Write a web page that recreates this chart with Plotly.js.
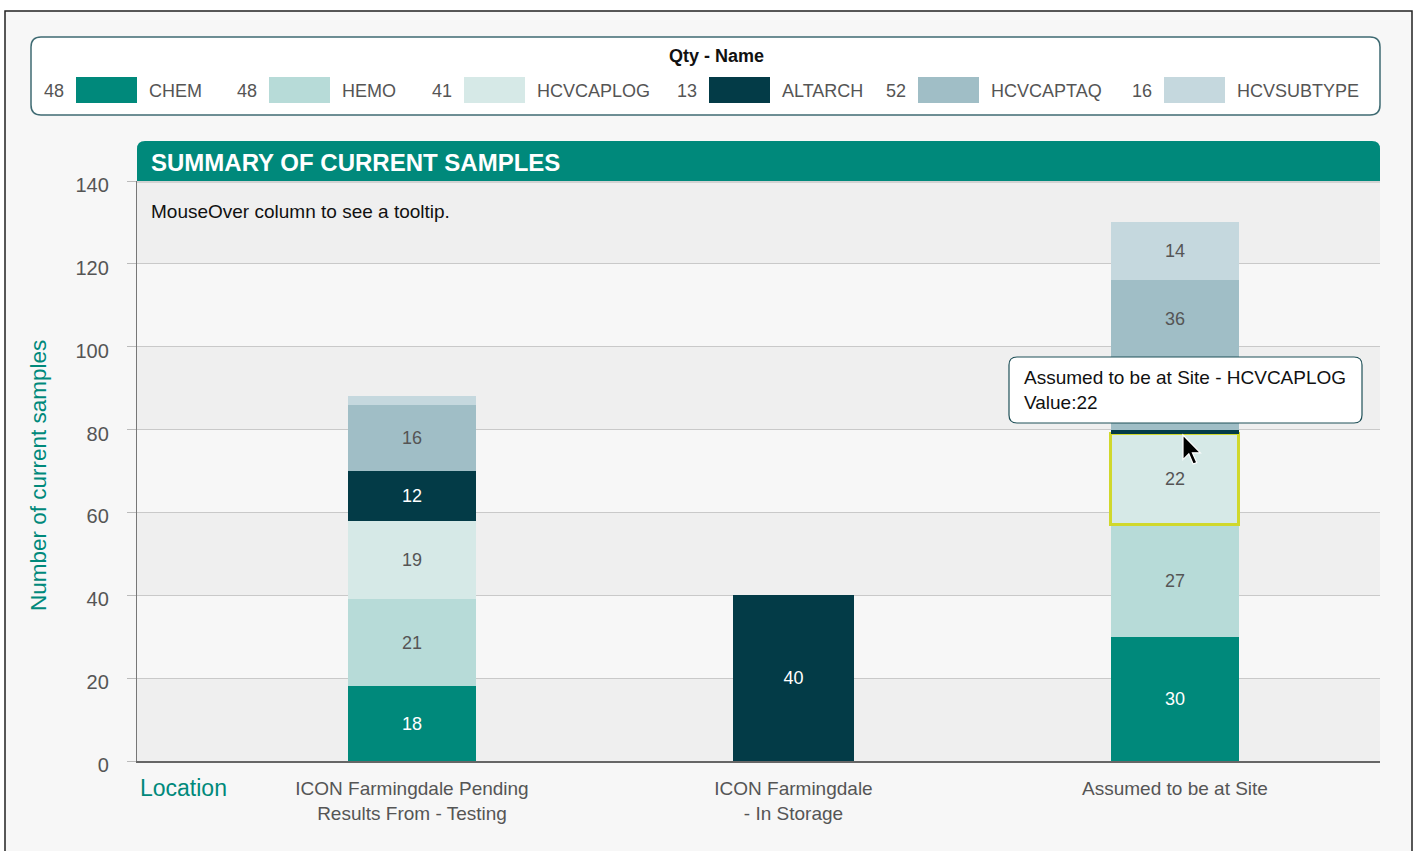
<!DOCTYPE html>
<html><head><meta charset="utf-8">
<script src="https://cdn.plot.ly/plotly-3.0.1.min.js"></script>
<style>html,body{margin:0;padding:0;background:#fff;}#chart{width:1416px;height:851px;}</style>
</head><body><div id="chart"></div>
<script>
// ---------- data ----------
const locations = ['ICON Farmingdale Pending<br>Results From - Testing', 'ICON Farmingdale<br>- In Storage', 'Assumed to be at Site'];
const seriesNames = ['CHEM', 'HEMO', 'HCVCAPLOG', 'ALTARCH', 'HCVCAPTAQ', 'HCVSUBTYPE'];
const chem       = [18, null, 30];
const hemo       = [21, null, 27];
const hcvcaplog  = [19, null, 22];
const altarch    = [12, 40, 1];
const hcvcaptaq  = [16, null, 36];
const hcvsubtype = [2, null, 14];
const legendQty  = [48, 48, 41, 13, 52, 16];
const yTicks     = [0, 20, 40, 60, 80, 100, 120, 140];
const chartTitle = 'SUMMARY OF CURRENT SAMPLES';
const hintText   = 'MouseOver column to see a tooltip.';
const legendTitle = 'Qty - Name';
const yTitle     = 'Number of current samples';
const xTitle     = 'Location';
const tooltipLines = ['Assumed to be at Site - HCVCAPLOG', 'Value:22'];

// ---------- styles ----------
const FONT = '"Liberation Sans", Arial, sans-serif';
const TEAL = '#00897b';
const colors = ['#00897b', '#b7dbd8', '#d6e9e7', '#033b47', '#a0bec6', '#c5d8de'];
const textColors = ['#ffffff', '#555555', '#555555', '#ffffff', '#555555', '#555555'];
const series = [chem, hemo, hcvcaplog, altarch, hcvcaptaq, hcvsubtype];
const highlight = {series: 2, point: 2};

const PL = 137, PT = 181, PB = 761; // plot left / top / bottom in px
const YMAX = 140;
const BW = 0.3355;
const tipBox = {x0: 1009, x1: 1362, y0: 357, y1: 423}; // tooltip box in px
const pxToVal = py => (PB - py) / (PB - PT) * YMAX;
const valToPx = v => PB - v / YMAX * (PB - PT);
const tipTopVal = pxToVal(tipBox.y0);

// labels whose segment centre is covered by the tooltip are moved to the centre of the visible part
const movedLabels = [];
const cum = locations.map(() => 0);
const textArrays = series.map((vals) => vals.map((v, i) => {
  const lo = cum[i], hi = cum[i] + (v || 0);
  cum[i] = hi;
  if (v == null || v < 5) return '';
  const midPx = valToPx((lo + hi) / 2);
  if (i === 2 && midPx + 9 > tipBox.y0 && midPx - 9 < tipBox.y1 && hi > tipTopVal) {
    movedLabels.push({x: locations[i], y: (hi + tipTopVal) / 2, text: String(v)});
    return '';
  }
  return String(v);
}));

const traces = series.map((vals, s) => {
  const lineColors = vals.map((v, i) => (s === highlight.series && i === highlight.point) ? '#d0d82c' : 'rgba(0,0,0,0)');
  const lineWidths = vals.map((v, i) => (s === highlight.series && i === highlight.point) ? 3 : 0);
  return {
    type: 'bar',
    name: seriesNames[s],
    x: locations,
    y: vals,
    width: locations.map((c, i) => i === 1 ? 0.318 : BW),
    text: textArrays[s],
    textposition: 'inside',
    insidetextanchor: 'middle',
    textangle: 0,
    textfont: {family: FONT, size: 18, color: textColors[s]},
    marker: {color: colors[s], line: {color: lineColors, width: lineWidths}},
    hoverinfo: 'none',
    showlegend: false
  };
});

function rrect(x0, x1, yTop, yBot, r) {
  return `M${x0 + r},${yTop} L${x1 - r},${yTop} Q${x1},${yTop} ${x1},${yTop - r} L${x1},${yBot + r} Q${x1},${yBot} ${x1 - r},${yBot} L${x0 + r},${yBot} Q${x0},${yBot} ${x0},${yBot + r} L${x0},${yTop - r} Q${x0},${yTop} ${x0 + r},${yTop} Z`;
}
function pxShape(path, fill, lineColor, lineWidth, layer) {
  return {type: 'path', xref: 'paper', yref: 'paper', xsizemode: 'pixel', ysizemode: 'pixel',
    xanchor: 0, yanchor: 1, path: path, fillcolor: fill,
    line: {color: lineColor, width: lineWidth}, layer: layer};
}
const X = px => px - PL;      // px -> relative x
const Y = py => PT - py;      // px -> relative y (up positive)

const shapes = [];
// outer frame
shapes.push(pxShape(`M${X(5)},${Y(11)} L${X(1412)},${Y(11)} L${X(1412)},${Y(870)} L${X(5)},${Y(870)} Z`, '#f7f7f7', '#222', 1.5, 'below'));
// legend box
shapes.push(pxShape(rrect(X(31), X(1380), Y(37), Y(115), 10), '#ffffff', '#3f6b73', 1.5, 'below'));
// background bands
for (let i = 0; i < yTicks.length - 1; i += 2) {
  shapes.push({type: 'rect', xref: 'paper', yref: 'y', x0: 0, x1: 1, y0: yTicks[i], y1: yTicks[i + 1],
    fillcolor: '#efefef', line: {width: 0}, layer: 'below'});
}
// title banner with rounded top corners
const bW = X(1380), bH = 40, br = 8;
shapes.push(pxShape(`M0,0 L0,${bH - br} Q0,${bH} ${br},${bH} L${bW - br},${bH} Q${bW},${bH} ${bW},${bH - br} L${bW},0 Z`, TEAL, 'rgba(0,0,0,0)', 0, 'above'));
shapes.push(pxShape(`M0,0 L${bW},0 L${bW},-2 L0,-2 Z`, '#d2d2d2', 'rgba(0,0,0,0)', 0, 'above'));
// legend swatches
const swatchLeft = [76, 269, 464, 709, 918, 1164];
swatchLeft.forEach((l, s) => {
  shapes.push(pxShape(`M${X(l)},${Y(77)} L${X(l + 61)},${Y(77)} L${X(l + 61)},${Y(103)} L${X(l)},${Y(103)} Z`, colors[s], 'rgba(0,0,0,0)', 0, 'below'));
});
// tooltip box
shapes.push(pxShape(rrect(X(tipBox.x0), X(tipBox.x1), Y(tipBox.y0), Y(tipBox.y1), 8), '#ffffff', '#1f5058', 1.2, 'above'));
// mouse cursor
const tip = [1183, 435], sc = 1.45;
const cur = [[0,0],[0,17],[4,13],[7,20],[9.5,19],[6.5,12.3],[12,12.3]];
const curPath = 'M' + cur.map(p => `${X(tip[0] + p[0] * sc)},${Y(tip[1] + p[1] * sc)}`).join(' L') + ' Z';
shapes.push(pxShape(curPath, '#000', '#fff', 1.2, 'above'));

const annotations = [];
const ann = (text, px, py, opts) => Object.assign({
  text: text, xref: 'paper', yref: 'paper', x: 0, y: 1, xshift: X(px), yshift: Y(py),
  showarrow: false, xanchor: 'left', yanchor: 'middle', font: {family: FONT, size: 18, color: '#555'}
}, opts || {});
annotations.push(ann('<b>' + legendTitle + '</b>', 716, 56, {xanchor: 'center', font: {family: FONT, size: 18, color: '#111'}}));
swatchLeft.forEach((l, s) => {
  annotations.push(ann(String(legendQty[s]), l - 10, 91, {xanchor: 'right'}));
  annotations.push(ann(seriesNames[s], l + 71, 91));
});
annotations.push(ann('<b>' + chartTitle + '</b>', 149, 162, {font: {family: FONT, size: 24, color: '#fff'}}));
annotations.push(ann(hintText, 149, 211, {font: {family: FONT, size: 19, color: '#111'}}));
annotations.push(ann(tooltipLines.join('<br>'), 1022, 390, {align: 'left', font: {family: FONT, size: 19, color: '#111'}}));
annotations.push(ann(xTitle, 183, 788, {xanchor: 'center', font: {family: FONT, size: 23, color: TEAL}}));
annotations.push(ann(yTitle, 38, 476, {xanchor: 'center', textangle: -90, font: {family: FONT, size: 22.5, color: TEAL}}));
movedLabels.forEach(m => annotations.push({text: m.text, xref: 'x', yref: 'y', x: m.x, y: m.y,
  showarrow: false, xanchor: 'center', yanchor: 'middle', font: {family: FONT, size: 18, color: '#555'}}));

const layout = {
  width: 1416, height: 851,
  margin: {l: PL, r: 36, t: PT, b: 851 - PB, pad: 0},
  paper_bgcolor: '#ffffff',
  plot_bgcolor: '#ffffff',
  font: {family: FONT, color: '#555'},
  barmode: 'stack',
  bargap: 0,
  hovermode: false,
  showlegend: false,
  xaxis: {
    type: 'category', range: [-0.7208, 2.5374], fixedrange: true,
    showgrid: false, zeroline: false, showline: true, linecolor: '#666', linewidth: 1.5,
    ticks: '', ticklabelstandoff: 10,
    tickfont: {family: FONT, size: 19, color: '#555'}
  },
  yaxis: {
    range: [0, YMAX], tickvals: yTicks, ticktext: yTicks.map(String), fixedrange: true,
    showgrid: true, gridcolor: '#c9c9c9', gridwidth: 1, zeroline: false,
    showline: true, linecolor: '#777', linewidth: 1.2,
    ticks: 'outside', ticklen: 9, tickcolor: '#bbb', ticklabelstandoff: 14, ticklabelshift: 4,
    tickfont: {family: FONT, size: 20, color: '#555'}
  },
  shapes: shapes,
  annotations: annotations
};

Plotly.newPlot('chart', traces, layout, {displayModeBar: false, staticPlot: true});
</script>
</body></html>
